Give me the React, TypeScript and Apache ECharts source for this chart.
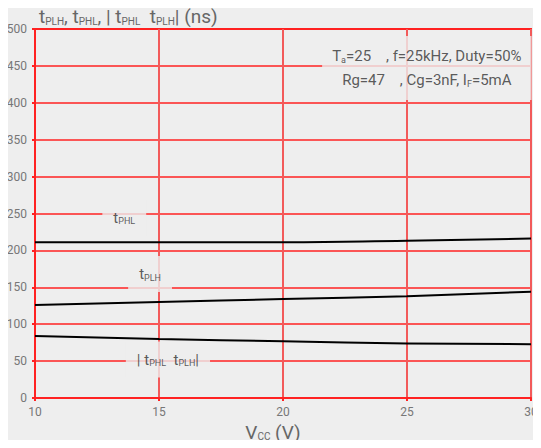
import React, { useEffect, useRef } from "react";
import * as echarts from "echarts";

const vcc = [10, 15, 20, 25, 30];
const tPHL = [211, 211, 211, 213, 216];
const tPLH = [126, 130, 134, 138, 144];
const tDiff = [84, 80, 77, 74, 73];
const yTicks = { min: 0, max: 500, interval: 50 };
const xTicks = { min: 10, max: 30, interval: 5 };

// annotation anchors (data coordinates) and rich texts
const curveLabels: [number, number, string][] = [
  [13.6, 244, "{n|t}{s|PHL}"],
  [14.64, 168, "{n|t}{s|PLH}"],
  [15.36, 52, "{n|| t}{s|PHL}{n|  t}{s|PLH}{n||}"],
];
const condAnchor: [number, number] = [25.8, 447];
const condText =
  "{n|T}{s|a}{n|=25    , f=25kHz, Duty=50%}\n{n|Rg=47    , Cg=3nF, I}{s|F}{n|=5mA}";

const FONT = 'Roboto, "Noto Sans", sans-serif';
const BG = "#eeeeee";
const RED = "#ff2222";
const RED_SOFT = "#f25a5a";

export default function App() {
  const ref = useRef<HTMLDivElement>(null);
  useEffect(() => {
    const chart = echarts.init(ref.current!, undefined, { renderer: "svg" });
    const rich = {
      n: { fontSize: 15, color: "#333", fontFamily: FONT, lineHeight: 24 },
      s: { fontSize: 9, color: "#333", fontFamily: FONT, padding: [7, 0, 0, 0], lineHeight: 24 },
    };
    const bigRich = {
      n: { fontSize: 19, color: "#666", fontFamily: FONT, fontWeight: "normal" },
      s: { fontSize: 10, color: "#666", fontFamily: FONT, fontWeight: "normal", padding: [9, 0, 0, 0] },
    };
    chart.setOption({
      animation: false,
      backgroundColor: BG,
      textStyle: { fontFamily: FONT },
      title: {
        text: "{n|t}{s|PLH}{n|, t}{s|PHL}{n|, | t}{s|PHL}{n|  t}{s|PLH}{n|| (ns)}",
        left: 34,
        top: 2,
        textStyle: { fontWeight: "normal", rich: bigRich },
      },
      grid: {
        left: 35,
        right: 10,
        top: 29,
        bottom: 50,
        show: true,
        borderColor: RED,
        borderWidth: 2,
        backgroundColor: "transparent",
      },
      xAxis: {
        type: "value",
        min: xTicks.min,
        max: xTicks.max,
        interval: xTicks.interval,
        name: "{n|V}{s|CC}{n| (V)}",
        nameLocation: "middle",
        nameGap: 23,
        nameTextStyle: { rich: bigRich, padding: [0, 20, 0, 0] },
        axisLine: { show: true, lineStyle: { color: RED, width: 2 } },
        axisTick: { show: true, length: 3, lineStyle: { color: RED, width: 2 } },
        axisLabel: { color: "#777", fontSize: 12, fontFamily: FONT, margin: 8 },
        splitLine: { show: true, lineStyle: { color: RED_SOFT, width: 2 } },
      },
      yAxis: {
        type: "value",
        min: yTicks.min,
        max: yTicks.max,
        interval: yTicks.interval,
        axisLine: { show: true, lineStyle: { color: RED, width: 2 } },
        axisTick: { show: true, length: 3, lineStyle: { color: RED, width: 2 } },
        axisLabel: { color: "#777", fontSize: 12, fontFamily: FONT, margin: 8 },
        splitLine: { show: true, lineStyle: { color: RED, width: 1.6 } },
      },
      series: [
        {
          type: "line",
          data: vcc.map((v, i) => [v, tPHL[i]]),
          showSymbol: false,
          smooth: true,
          z: 6,
          lineStyle: { color: "#000", width: 2 },
        },
        {
          type: "line",
          data: vcc.map((v, i) => [v, tPLH[i]]),
          showSymbol: false,
          smooth: true,
          z: 6,
          lineStyle: { color: "#000", width: 2 },
        },
        {
          type: "line",
          data: vcc.map((v, i) => [v, tDiff[i]]),
          showSymbol: false,
          smooth: true,
          z: 6,
          lineStyle: { color: "#000", width: 2 },
        },
        {
          type: "scatter",
          symbolSize: 0,
          silent: true,
          z: 5,
          data: curveLabels.map((d) => ({
            value: [d[0], d[1]],
            label: {
              show: true,
              position: "inside",
              formatter: d[2],
              backgroundColor: BG,
              padding: [6, 11, 6, 11],
              rich,
            },
          })),
        },
        {
          type: "scatter",
          symbolSize: 0,
          silent: true,
          z: 5,
          data: [
            {
              value: condAnchor,
              label: {
                show: true,
                position: "inside",
                formatter: condText,
                backgroundColor: BG,
                padding: [8, 10, 8, 10],
                align: "center",
                rich,
              },
            },
          ],
        },
      ],
    });
    return () => chart.dispose();
  }, []);
  return (
    <div
      ref={ref}
      style={{ width: 541, height: 448, background: BG, margin: -8 }}
    />
  );
}
